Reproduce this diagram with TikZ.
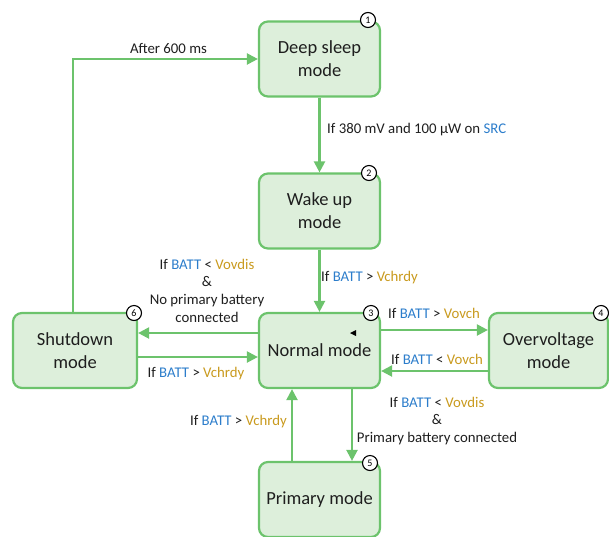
\documentclass[tikz,border=0pt]{standalone}
\usepackage{fontspec}
\setmainfont{Carlito}
\usetikzlibrary{arrows.meta}
\definecolor{gline}{HTML}{6CC36C}
\definecolor{gfill}{HTML}{DDEFDB}
\definecolor{bluet}{HTML}{2C7DCB}
\definecolor{goldt}{HTML}{C99A1E}
\definecolor{txt}{HTML}{1E1E1E}
\newcommand{\bt}{\textcolor{bluet}{BATT}}
\newcommand{\gt}[1]{\textcolor{goldt}{#1}}
\begin{document}
\begin{tikzpicture}[x=1pt,y=-1pt,
  state/.style={draw=gline,fill=gfill,line width=2.2pt,rounded corners=9pt,
    minimum width=121pt,minimum height=75pt,align=center,font=\fontsize{18.5}{23}\selectfont,text=txt,inner sep=2pt},
  badge/.style={circle,draw=black,fill=white,line width=1.1pt,minimum size=15pt,inner sep=0pt,font=\fontsize{10}{10}\selectfont},
  conn/.style={draw=gline,line width=2.2pt,-{Triangle[length=11pt,width=11pt]}},
  lab/.style={font=\fontsize{14.8}{17.7}\selectfont,text=txt,align=center,inner sep=1pt}]
\useasboundingbox (0,0) rectangle (609,536);
\node[state] (deep) at (319.5,59) {Deep sleep\\mode};
\node[state] (wake) at (319.5,211) {Wake up\\mode};
\node[state] (normal) at (319.5,350.5) {Normal mode};
\node[state,minimum width=119pt] (over) at (548.5,350.5) {Overvoltage\\mode};
\node[state,minimum width=124pt] (shut) at (75,350.5) {Shutdown\\mode};
\node[state] (prim) at (319.5,499.5) {Primary mode};
\node[badge] (b1) at (368,20) {1};
\node[badge] (b2) at (369,173) {2};
\node[badge] (b3) at (371,313) {3};
\node[badge] (b4) at (601,313) {4};
\node[badge] (b5) at (370,463) {5};
\node[badge] (b6) at (134,313) {6};
\fill[black] (350,333) -- (356,330) -- (356,336) -- cycle;
% connectors
\draw[conn] (deep.south) -- (wake.north);
\node[lab,anchor=west] (l1) at (326,130) {If 380 mV and 100 µW on \textcolor{bluet}{SRC}};
\draw[conn] (wake.south) -- (normal.north);
\node[lab,anchor=west] (l2) at (320,278) {If \bt{} > \gt{Vchrdy}};
\draw[conn] (normal.west |- 0,333) -- (shut.east |- 0,333);
\node[lab] (l3) at (207,290.5) {If \bt{} < \gt{Vovdis}\\\&\\No primary battery\\connected};
\draw[conn] (shut.east |- 0,357) -- (normal.west |- 0,357);
\node[lab] (l4) at (196,374) {If \bt{} > \gt{Vchrdy}};
\draw[conn] (normal.east |- 0,330) -- (over.west |- 0,330);
\node[lab,anchor=west] (l5) at (387,313) {If \bt{} > \gt{Vovch}};
\draw[conn] (over.west |- 0,371) -- (normal.east |- 0,371);
\node[lab,anchor=west] (l6) at (390,359) {If \bt{} < \gt{Vovch}};
\draw[conn] (normal.south -| 352,0) -- (prim.north -| 352,0);
\node[lab] (l7) at (437,421) {If \bt{} < \gt{Vovdis}\\\&\\Primary battery connected};
\draw[conn] (prim.north -| 292,0) -- (normal.south -| 292,0);
\node[lab,anchor=east] (l8) at (288,422) {If \bt{} > \gt{Vchrdy}};
\draw[conn] (shut.north -| 73,0) |- (deep.west);
\node[lab] (l9) at (168.5,48) {After 600 ms};
\end{tikzpicture}
\end{document}
